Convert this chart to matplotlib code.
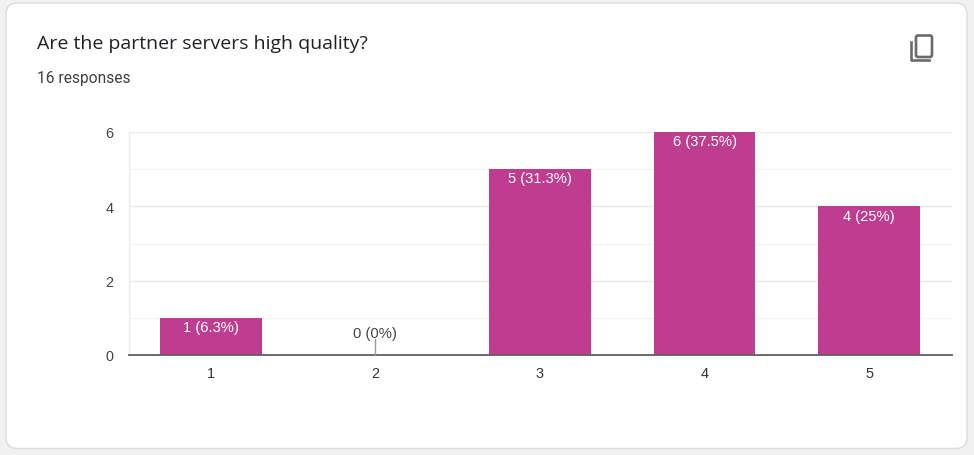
import matplotlib
matplotlib.use("Agg")
import matplotlib.pyplot as plt
from matplotlib.patches import FancyBboxPatch

categories = ["1", "2", "3", "4", "5"]
counts = [1, 0, 5, 6, 4]
bar_labels = ["1 (6.3%)", "0 (0%)", "5 (31.3%)", "6 (37.5%)", "4 (25%)"]
y_ticks = [0, 2, 4, 6]
minor_ticks = [1, 3, 5]
title = "Are the partner servers high quality?"
subtitle = "16 responses"

W, H = 974, 456
BAR = "#bf3d8e"
fig = plt.figure(figsize=(W / 100, H / 100), dpi=100, facecolor="#f1f1f1")

bg = fig.add_axes([0, 0, 1, 1], zorder=0)
bg.set_xlim(0, W); bg.set_ylim(H, 0); bg.axis("off")
bg.add_patch(FancyBboxPatch((6, 4), 961, 445.5, boxstyle="round,pad=0,rounding_size=11",
                            fc="white", ec="#dadce0", lw=1.0))
bg.text(37, 44, title, fontsize=14.0, family="Open Sans", color="#202124", va="center", ha="left")
bg.text(37, 79, subtitle, fontsize=11.2, family="Roboto", color="#3c4043", va="center", ha="left")
# copy icon
bg.add_patch(FancyBboxPatch((916, 36.5), 16, 21.5, boxstyle="round,pad=0,rounding_size=2",
                            fc="none", ec="#6b6b6b", lw=1.9))
bg.plot([911, 911, 929], [43, 61, 61], color="#6b6b6b", lw=1.9, solid_joinstyle="round")

left, right, bottom, top = 128.5, 951.5, 356, 133
ax = fig.add_axes([left / W, 1 - bottom / H, (right - left) / W, (bottom - top) / H], zorder=1)
ax.patch.set_alpha(0)
x = list(range(len(categories)))
ax.set_xlim(-0.5, 4.5)
ax.set_ylim(0, 6)
for s in ["top", "right"]:
    ax.spines[s].set_visible(False)
ax.spines["left"].set_color("#ececec")
ax.spines["left"].set_linewidth(1.0)
ax.spines["bottom"].set_color("#5f5f5f")
ax.spines["bottom"].set_linewidth(1.3)
ax.set_axisbelow(True)
ax.set_yticks(y_ticks)
ax.set_yticks(minor_ticks, minor=True)
ax.grid(True, axis="y", which="major", color="#e9e9e9", lw=1.0)
ax.grid(True, axis="y", which="minor", color="#f5f5f5", lw=1.0)
ax.tick_params(axis="both", which="both", length=0)
ax.tick_params(axis="y", labelsize=10.4, labelcolor="#444444", pad=11)
ax.tick_params(axis="x", labelsize=10.4, labelcolor="#333333", pad=8)
ax.set_xticks(x, categories)
for lab in ax.get_xticklabels() + ax.get_yticklabels():
    lab.set_family("Liberation Sans")
ax.bar(x, counts, width=0.617, color=BAR, zorder=2)
for i, (c, lab) in enumerate(zip(counts, bar_labels)):
    if c == 0:
        ax.plot([i, i], [0, 0.42], color="#9a9a9a", lw=1.0, zorder=3, clip_on=False)
        ax.text(i, 0.58, lab, ha="center", va="center", fontsize=10.6,
                family="Liberation Sans", color="#444444", zorder=4)
    else:
        ax.text(i, c - 0.25, lab, ha="center", va="center", fontsize=10.6,
                family="Liberation Sans", color="white", zorder=4)
fig.savefig("out.png", dpi=100, facecolor=fig.get_facecolor())
